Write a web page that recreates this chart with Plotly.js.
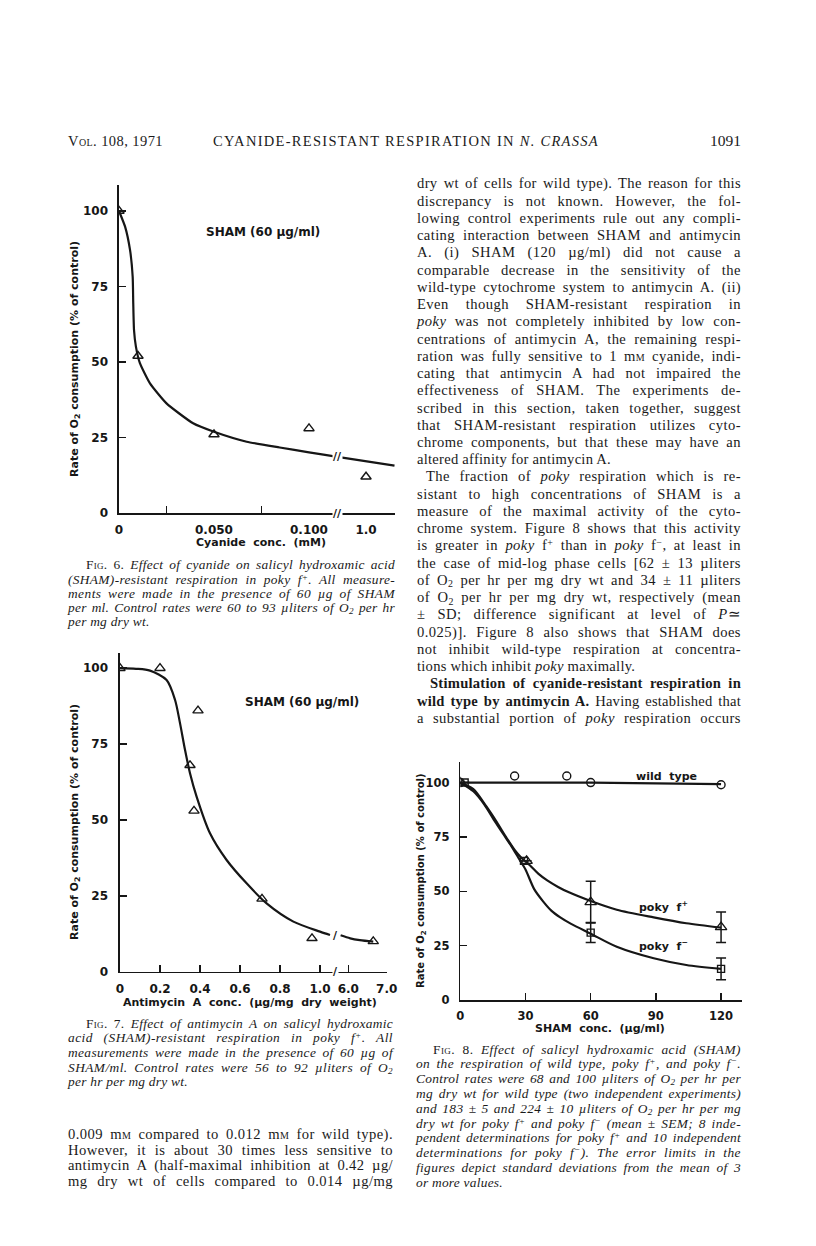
<!DOCTYPE html>
<html>
<head>
<meta charset="utf-8">
<script src="https://cdn.plot.ly/plotly-3.0.1.min.js"></script>
<style>
  body { margin: 0; background: #fff; }
  #page { position: relative; width: 816px; height: 1246px; overflow: hidden; background: #fff; }
  #plot { position: absolute; left: 0; top: 0; width: 816px; height: 1246px; }
  .ln { position: absolute; white-space: nowrap; font-family: "Liberation Serif", "Times New Roman", serif; color: #1a1a1a; }
  .body { font-size: 14.6px; }
  .cap { font-size: 13.4px; font-style: italic; }
  .fig { font-style: normal; font-variant: small-caps; }
  .sc { font-variant: small-caps; }
  sup, sub { font-size: 68%; vertical-align: baseline; position: relative; }
  sup { top: -0.45em; }
  sub { top: 0.25em; }
  .hdr { position: absolute; white-space: nowrap; font-family: "Liberation Serif", serif; font-size: 14.5px; color: #1a1a1a; line-height: 16px; }
</style>
</head>
<body>
<div id="page">
  <div id="plot"></div>
</div>
<script>
// ---- Fig. 6: cyanide (mM) with SHAM 60 ug/ml, poky f+
const cyanideConc = [0, 0.01, 0.05, 0.1, 1.0];
const cyanideRate = [100, 52, 26, 28, 12];
const cyanideCurveConc = [0, 0.0032, 0.0058, 0.0072, 0.0075, 0.0079, 0.0089, 0.011, 0.0163, 0.025, 0.039, 0.05, 0.0672, 0.0846, 0.1, 0.5, 1.5];
const cyanideCurveRate = [100, 94.8, 87.1, 78.2, 69.4, 60.6, 55.1, 49.6, 42.9, 36.3, 29.7, 26.9, 23.6, 21.7, 20.1, 18.6, 15.7];
const cyanideTicks = [0, 0.05, 0.1, 1.0];
const cyanideTickText = ["0", "0.050", "0.100", "1.0"];
const cyanideMinor = [0.025, 0.075];

// ---- Fig. 7: antimycin A (ug/mg dry weight)
const antimycinConc = [0, 0.2, 0.39, 0.35, 0.37, 0.71, 0.96, 6.65];
const antimycinRate = [100, 100, 86, 68, 53, 24, 11, 10];
const antimycinCurveConc = [0, 0.08, 0.15, 0.233, 0.275, 0.3, 0.325, 0.35, 0.383, 0.45, 0.533, 0.633, 0.733, 0.867, 1.0, 1.05];
const antimycinCurveRate = [100, 99.8, 99.2, 96.1, 89.6, 81.9, 73.1, 65.4, 57.7, 45.6, 36.8, 29.1, 22.5, 16.5, 13.2, 12.1];
const antimycinTailConc = [5.8, 6.05, 6.3, 6.65];
const antimycinTailRate = [12, 11, 10.4, 9.9];
const antimycinTicks = [0, 0.2, 0.4, 0.6, 0.8, 1.0, 6.0, 7.0];
const antimycinTickText = ["0", "0.2", "0.4", "0.6", "0.8", "1.0", "6.0", "7.0"];

// ---- Fig. 8: SHAM (ug/ml)
const shamTicks = [0, 30, 60, 90, 120];
const wildTypeConc = [0, 25, 49, 60, 120];
const wildTypeRate = [100, 103, 103, 100, 99];
const wildTypeCurveConc = [0, 60, 120];
const wildTypeCurveRate = [100, 100, 99.3];
const pokyPlusConc = [0, 30.5, 60, 120];
const pokyPlusRate = [100, 64, 45, 33.5];
const pokyPlusSD = [0, 0, 9.6, 7];
const pokyPlusCurveConc = [0, 6, 12, 17, 21, 25, 28, 32, 36, 40, 45, 50, 60, 72, 89, 104, 120];
const pokyPlusCurveRate = [100, 97, 89, 81.5, 75, 69, 65.5, 62, 58, 55, 52, 49.5, 45.5, 41.5, 38, 35.3, 33.3];
const pokyMinusConc = [2, 29.3, 60, 120];
const pokyMinusRate = [100, 64, 31, 14.3];
const pokyMinusSD = [0, 0, 4.6, 5];
const pokyMinusCurveConc = [0, 6, 11, 16, 20, 24, 27, 30, 34, 38, 42, 46, 51, 60, 72, 89, 104, 120];
const pokyMinusCurveRate = [100, 96, 90, 82, 76, 70, 65, 60, 51, 45.5, 41, 38, 35, 30.5, 24.5, 19.2, 16.1, 14.3];

const rateTicks = [0, 25, 50, 75, 100];

const ink = "#161616";
const chartFont = "DejaVu Sans";
const W = 816, H = 1246;

// broken x axes: values past the break are squeezed into a short stretch
const cyX = v => v <= 0.12 ? v : 0.13 + (v - 1.0) * 0.03;
const amX = v => v <= 1.06 ? v : 1.1415 + (v - 6.0) * 0.192;

const px = x => x / W;
const py = y => 1 - y / H;

function axis(extra) {
  return Object.assign({
    showline: true, linecolor: ink, linewidth: 1.6,
    showgrid: false, zeroline: false,
    ticks: "inside", ticklen: 7, tickwidth: 1.5, tickcolor: ink,
    tickfont: { family: chartFont, size: 12, color: ink, weight: 700 },
    ticklabelstandoff: 5, tickmode: "array", fixedrange: true
  }, extra);
}

const curveLine = { color: ink, width: 2.2, shape: "spline", smoothing: 0.8 };
const tri = { symbol: "triangle-up-open", size: 9, color: ink, line: { width: 1.4, color: ink } };

const traces = [
  // Fig 6
  { x: cyanideCurveConc.map(cyX), y: cyanideCurveRate, mode: "lines", line: Object.assign({}, curveLine, { smoothing: 0.5 }), xaxis: "x", yaxis: "y" },
  { x: cyanideConc.map(cyX), y: cyanideRate, mode: "markers", marker: tri, xaxis: "x", yaxis: "y" },
  // Fig 7
  { x: antimycinCurveConc.map(amX), y: antimycinCurveRate, mode: "lines", line: curveLine, xaxis: "x2", yaxis: "y2" },
  { x: antimycinTailConc.map(amX), y: antimycinTailRate, mode: "lines", line: curveLine, xaxis: "x2", yaxis: "y2" },
  { x: antimycinConc.map(amX), y: antimycinRate, mode: "markers", marker: tri, xaxis: "x2", yaxis: "y2" },
  // Fig 8
  { x: wildTypeCurveConc, y: wildTypeCurveRate, mode: "lines", line: curveLine, xaxis: "x3", yaxis: "y3" },
  { x: pokyPlusCurveConc, y: pokyPlusCurveRate, mode: "lines", line: curveLine, xaxis: "x3", yaxis: "y3" },
  { x: pokyMinusCurveConc, y: pokyMinusCurveRate, mode: "lines", line: curveLine, xaxis: "x3", yaxis: "y3" },
  { x: pokyPlusConc, y: pokyPlusRate, mode: "markers", xaxis: "x3", yaxis: "y3",
    marker: { symbol: "triangle-up-open", size: 10, color: ink, line: { width: 1.4, color: ink } },
    error_y: { type: "data", array: pokyPlusSD, visible: true, thickness: 1.5, width: 5, color: ink } },
  { x: pokyMinusConc, y: pokyMinusRate, mode: "markers", xaxis: "x3", yaxis: "y3",
    marker: { symbol: "square-open", size: 7, color: ink, line: { width: 1.4, color: ink } },
    error_y: { type: "data", array: pokyMinusSD, visible: true, thickness: 1.5, width: 5, color: ink } },
  { x: wildTypeConc, y: wildTypeRate, mode: "markers", xaxis: "x3", yaxis: "y3",
    marker: { symbol: "circle-open", size: 8, color: ink, line: { width: 1.4, color: ink } } }
];

const titleFont = { family: chartFont, size: 11, color: ink, weight: 700 };
const labelFont = { family: chartFont, size: 12, color: ink, weight: 700 };

function note(text, x, y, font, extra) {
  return Object.assign({ text, x: px(x), y: py(y), xref: "paper", yref: "paper",
    showarrow: false, xanchor: "center", yanchor: "middle", font }, extra || {});
}
function brk(text, x, y, xr, yr) {
  return { text, x, y, xref: xr, yref: yr, showarrow: false, bgcolor: "#fff", borderpad: 0,
    font: { family: chartFont, size: 11, color: ink, weight: 700 } };
}

const yTitle = "Rate of O<sub>2</sub> consumption (% of control)";

const layout = {
  width: W, height: H,
  margin: { l: 0, r: 0, t: 0, b: 0 },
  paper_bgcolor: "#fff", plot_bgcolor: "rgba(0,0,0,0)",
  showlegend: false,
  xaxis: axis({ domain: [px(119), px(395)], range: [0, 0.14526], anchor: "y",
    tickvals: cyanideTicks.map(cyX), ticktext: cyanideTickText, ticklen: 0,
    minor: { tickmode: "array", tickvals: cyanideMinor, ticks: "inside", ticklen: 7, tickwidth: 1.5, tickcolor: ink, showgrid: false } }),
  yaxis: axis({ domain: [py(513), py(185)], range: [0, 108.6], anchor: "x", tickvals: rateTicks, ticklabelstandoff: 7 }),
  xaxis2: axis({ domain: [px(120), px(386.7)], range: [0, 1.3335], anchor: "y2",
    tickvals: antimycinTicks.map(amX), ticktext: antimycinTickText }),
  yaxis2: axis({ domain: [py(971.7), py(653)], range: [0, 105], anchor: "x2", tickvals: rateTicks, ticklabelstandoff: 8 }),
  xaxis3: axis({ domain: [px(460.3), px(741.7)], range: [0, 129.5], anchor: "y3", tickvals: shamTicks,
    tickfont: { family: chartFont, size: 11.5, color: ink, weight: 700 } }),
  yaxis3: axis({ domain: [py(1000), py(761.7)], range: [0, 109.6], anchor: "x3", tickvals: rateTicks, ticklabelstandoff: 7,
    tickfont: { family: chartFont, size: 11.5, color: ink, weight: 700 } }),
  annotations: [
    note(yTitle, 75, 359, titleFont, { textangle: -90 }),
    note("Cyanide  conc.  (mM)", 261, 542, titleFont),
    note("SHAM (60 µg/ml)", 263, 232, labelFont),
    brk("//", 0.115, 0, "x", "y"),
    brk("//", 0.115, 18.6, "x", "y"),

    note(yTitle, 75, 822, titleFont, { textangle: -90 }),
    note("Antimycin  A  conc.  (µg/mg  dry  weight)", 250, 1002, titleFont),
    note("SHAM (60 µg/ml)", 302, 702, labelFont),
    brk("/", 1.078, 0, "x2", "y2"),
    brk("/", 1.078, 11.8, "x2", "y2"),

    note(yTitle, 421, 881, Object.assign({}, titleFont, { size: 10 }), { textangle: -90 }),
    note("SHAM  conc.  (µg/ml)", 600, 1028, titleFont),
    note("wild  type", 634, 776, titleFont, { xanchor: "left" }),
    note("poky  f<sup>+</sup>", 637, 906, titleFont, { xanchor: "left" }),
    note("poky  f<sup>−</sup>", 637, 945, titleFont, { xanchor: "left" })
  ]
};

Plotly.newPlot("plot", traces, layout, { staticPlot: true });

// ---- page text
const page = document.getElementById("page");

const rightBody = [
  "dry wt of cells for wild type). The reason for this",
  "discrepancy is not known. However, the fol-",
  "lowing control experiments rule out any compli-",
  "cating interaction between SHAM and antimycin",
  "A. (i) SHAM (120 µg/ml) did not cause a",
  "comparable decrease in the sensitivity of the",
  "wild-type cytochrome system to antimycin A. (ii)",
  "Even though SHAM-resistant respiration in",
  "<i>poky</i> was not completely inhibited by low con-",
  "centrations of antimycin A, the remaining respi-",
  "ration was fully sensitive to 1 m<span class='sc'>m</span> cyanide, indi-",
  "cating that antimycin A had not impaired the",
  "effectiveness of SHAM. The experiments de-",
  "scribed in this section, taken together, suggest",
  "that SHAM-resistant respiration utilizes cyto-",
  "chrome components, but that these may have an",
  "altered affinity for antimycin A.",
  "The fraction of <i>poky</i> respiration which is re-",
  "sistant to high concentrations of SHAM is a",
  "measure of the maximal activity of the cyto-",
  "chrome system. Figure 8 shows that this activity",
  "is greater in <i>poky</i> f<sup>+</sup> than in <i>poky</i> f<sup>−</sup>, at least in",
  "the case of mid-log phase cells [62 ± 13 µliters",
  "of O<sub>2</sub> per hr per mg dry wt and 34 ± 11 µliters",
  "of O<sub>2</sub> per hr per mg dry wt, respectively (mean",
  "± SD; difference significant at level of <i>P</i>≃",
  "0.025)]. Figure 8 also shows that SHAM does",
  "not inhibit wild-type respiration at concentra-",
  "tions which inhibit <i>poky</i> maximally.",
  "<b>Stimulation of cyanide-resistant respiration in</b>",
  "<b>wild type by antimycin A.</b> Having established that",
  "a substantial portion of <i>poky</i> respiration occurs"
];

const fig6Caption = [
  "<span class='fig'>Fig. 6.</span> Effect of cyanide on salicyl hydroxamic acid",
  "(SHAM)-resistant respiration in poky f<sup>+</sup>. All measure-",
  "ments were made in the presence of 60 µg of SHAM",
  "per ml. Control rates were 60 to 93 µliters of O<sub>2</sub> per hr",
  "per mg dry wt."
];
const fig7Caption = [
  "<span class='fig'>Fig. 7.</span> Effect of antimycin A on salicyl hydroxamic",
  "acid (SHAM)-resistant respiration in poky f<sup>+</sup>. All",
  "measurements were made in the presence of 60 µg of",
  "SHAM/ml. Control rates were 56 to 92 µliters of O<sub>2</sub>",
  "per hr per mg dry wt."
];
const leftBody = [
  "0.009 m<span class='sc'>m</span> compared to 0.012 m<span class='sc'>m</span> for wild type).",
  "However, it is about 30 times less sensitive to",
  "antimycin A (half-maximal inhibition at 0.42 µg/",
  "mg dry wt of cells compared to 0.014 µg/mg"
];
const fig8Caption = [
  "<span class='fig'>Fig. 8.</span> Effect of salicyl hydroxamic acid (SHAM)",
  "on the respiration of wild type, poky f<sup>+</sup>, and poky f<sup>−</sup>.",
  "Control rates were 68 and 100 µliters of O<sub>2</sub> per hr per",
  "mg dry wt for wild type (two independent experiments)",
  "and 183 ± 5 and 224 ± 10 µliters of O<sub>2</sub> per hr per mg",
  "dry wt for poky f<sup>+</sup> and poky f<sup>−</sup> (mean ± SEM; 8 inde-",
  "pendent determinations for poky f<sup>+</sup> and 10 independent",
  "determinations for poky f<sup>−</sup>). The error limits in the",
  "figures depict standard deviations from the mean of 3",
  "or more values."
];

// spread a line to the column width: part letter spacing, rest word spacing
function justify(d, target) {
  const text = d.textContent;
  const gaps = (text.match(/ /g) || []).length;
  let extra = target - d.getBoundingClientRect().width;
  if (extra > 0) {
    d.style.letterSpacing = Math.min(0.45, extra * 0.45 / text.length) + "px";
    extra = target - d.getBoundingClientRect().width;
  }
  if (gaps) d.style.wordSpacing = (extra / gaps) + "px";
}

function placeLines(lines, o) {
  lines.forEach((html, i) => {
    const d = document.createElement("div");
    d.className = "ln " + o.cls;
    d.innerHTML = html;
    const ind = (o.indent && o.indent[i]) || 0;
    d.style.left = (o.left + ind) + "px";
    d.style.top = (o.y0 + i * o.dy - o.dy / 2) + "px";
    d.style.lineHeight = o.dy + "px";
    page.appendChild(d);
    if (o.ends.includes(i)) {
      d.style.letterSpacing = "0.25px";
      return;
    }
    justify(d, o.width - ind);
  });
}

function header(html, x, y, align, size, target) {
  const d = document.createElement("div");
  d.className = "hdr";
  d.innerHTML = html;
  if (size) d.style.fontSize = size + "px";
  page.appendChild(d);
  if (target) {
    const n = d.textContent.length;
    const w0 = d.getBoundingClientRect().width;
    d.style.letterSpacing = ((target - w0) / n) + "px";
  }
  const w = d.getBoundingClientRect().width;
  d.style.left = (align === "right" ? x - w : align === "center" ? x - w / 2 : x) + "px";
  d.style.top = (y - 8) + "px";
}

document.fonts.ready.then(() => {
  header("V<span class='sc'>ol</span>. 108, 1971", 68, 141, "left", 14.5, 95);
  header("CYANIDE-RESISTANT RESPIRATION IN <i>N. CRASSA</i>", 406, 141, "center", 14.5, 386);
  header("1091", 741, 141, "right", 15.5);

  placeLines(rightBody, { cls: "body", left: 417, width: 324, y0: 184, dy: 17.24, ends: [16, 28], indent: { 17: 9, 29: 13 } });
  placeLines(fig6Caption, { cls: "cap", left: 68, width: 327, y0: 565.5, dy: 14.2, ends: [4], indent: { 0: 18 } });
  placeLines(fig7Caption, { cls: "cap", left: 68, width: 325, y0: 1024, dy: 14.7, ends: [4], indent: { 0: 18 } });
  placeLines(leftBody, { cls: "body", left: 68, width: 325, y0: 1135, dy: 15.6, ends: [] });
  placeLines(fig8Caption, { cls: "cap", left: 416, width: 325, y0: 1050, dy: 14.8, ends: [9], indent: { 0: 17 } });
});
</script>
</body>
</html>
